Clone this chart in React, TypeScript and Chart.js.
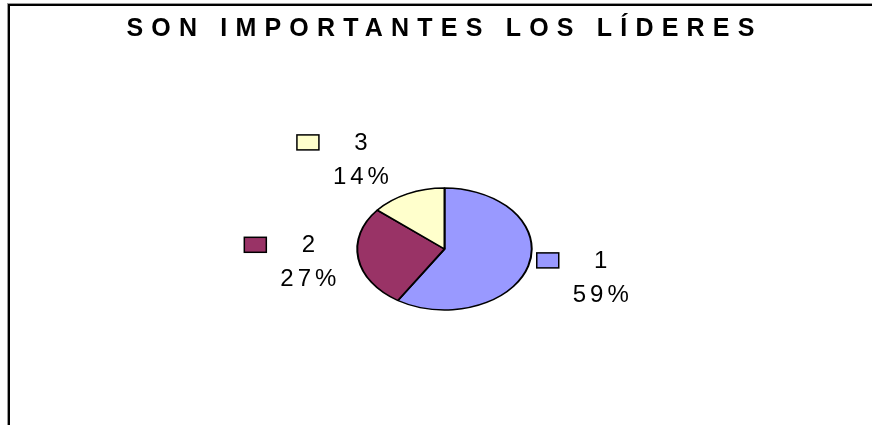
import React, { useEffect, useRef } from "react";
import { Chart, registerables } from "chart.js";

Chart.register(...registerables);

const TITLE = "SON IMPORTANTES LOS LÍDERES";
const CATEGORIES = ["1", "2", "3"];
const VALUES = [59, 27, 14];
const COLORS = ["#9999FF", "#993366", "#FFFFCC"];

// layout (not data)
const ELLIPSE_X = 1.43;
const LABEL_K = 1.1;
const LABEL_BOX = { w: 95, h: 55 };
const LABEL_NUDGE = [
  [2, 5],
  [-11, 1],
  [-39, -1],
];
const FONT = '"Liberation Sans", Arial, sans-serif';

const ellipsePlugin = {
  id: "ellipseAndLabels",
  beforeDatasetsDraw(chart: any) {
    const meta = chart.getDatasetMeta(0);
    const arc = meta.data[0];
    if (!arc) return;
    const { x, y } = arc;
    const ctx = chart.ctx;
    ctx.save();
    ctx.translate(x, y);
    ctx.scale(ELLIPSE_X, 1);
    ctx.translate(-x, -y);
  },
  afterDatasetsDraw(chart: any) {
    const ctx = chart.ctx;
    ctx.restore();
    const meta = chart.getDatasetMeta(0);
    const data = chart.data.datasets[0].data as number[];
    const total = data.reduce((a, b) => a + b, 0);
    meta.data.forEach((el: any, i: number) => {
      const mid = (el.startAngle + el.endAngle) / 2;
      const r = el.outerRadius;
      const c = Math.cos(mid);
      const s = Math.sin(mid);
      const ax = el.x + ELLIPSE_X * r * LABEL_K * c;
      const ay = el.y + r * LABEL_K * s;
      const cx = ax + (LABEL_BOX.w / 2) * c;
      const cy = ay + (LABEL_BOX.h / 2) * s;
      const left = cx - LABEL_BOX.w / 2 + LABEL_NUDGE[i][0];
      const top = cy - LABEL_BOX.h / 2 + LABEL_NUDGE[i][1];
      ctx.save();
      ctx.fillStyle = COLORS[i];
      ctx.strokeStyle = "#000";
      ctx.lineWidth = 1.5;
      ctx.fillRect(left, top, 22, 15);
      ctx.strokeRect(left, top, 22, 15);
      ctx.fillStyle = "#000";
      ctx.font = `24px ${FONT}`;
      ctx.textAlign = "center";
      ctx.textBaseline = "middle";
      (ctx as any).letterSpacing = "4px";
      const tx = left + 64 + 2;
      ctx.fillText(String(chart.data.labels[i]), tx, top + 8);
      const pct = Math.round((data[i] / total) * 100) + "%";
      ctx.fillText(pct, tx, top + 42);
      ctx.restore();
    });
  },
};

const titleSpacingPlugin = {
  id: "titleSpacing",
  beforeDraw(chart: any) {
    (chart.ctx as any).letterSpacing = "8.2px";
  },
  beforeDatasetsDraw(chart: any) {
    (chart.ctx as any).letterSpacing = "0px";
  },
};

export default function App() {
  const ref = useRef<HTMLCanvasElement>(null);
  useEffect(() => {
    if (!ref.current) return;
    const chart = new Chart(ref.current, {
      type: "pie",
      data: {
        labels: CATEGORIES,
        datasets: [
          {
            data: VALUES,
            backgroundColor: COLORS,
            borderColor: "#000",
            borderWidth: 1.4,
          },
        ],
      },
      plugins: [titleSpacingPlugin, ellipsePlugin],
      options: {
        animation: false,
        responsive: false,
        radius: 61,
        layout: { padding: { left: 7, right: 0, top: 0, bottom: 115 } },
        plugins: {
          legend: { display: false },
          tooltip: { enabled: false },
          title: {
            display: true,
            text: TITLE,
            color: "#000",
            font: { family: FONT, size: 25, weight: "bold" },
            padding: { top: 8, bottom: 144 },
          },
        },
      } as any,
    });
    return () => chart.destroy();
  }, []);
  return (
    <div
      style={{
        position: "absolute",
        left: 7,
        top: 3,
        width: 865,
        height: 422,
        borderTop: "1px solid #999",
        borderLeft: "1px solid #999",
        background: "#fff",
      }}
    >
      <div
        style={{
          borderTop: "2px solid #000",
          borderLeft: "2px solid #000",
          width: 862,
          height: 419,
        }}
      >
        <canvas ref={ref} width={862} height={419} style={{ display: "block" }} />
      </div>
    </div>
  );
}
